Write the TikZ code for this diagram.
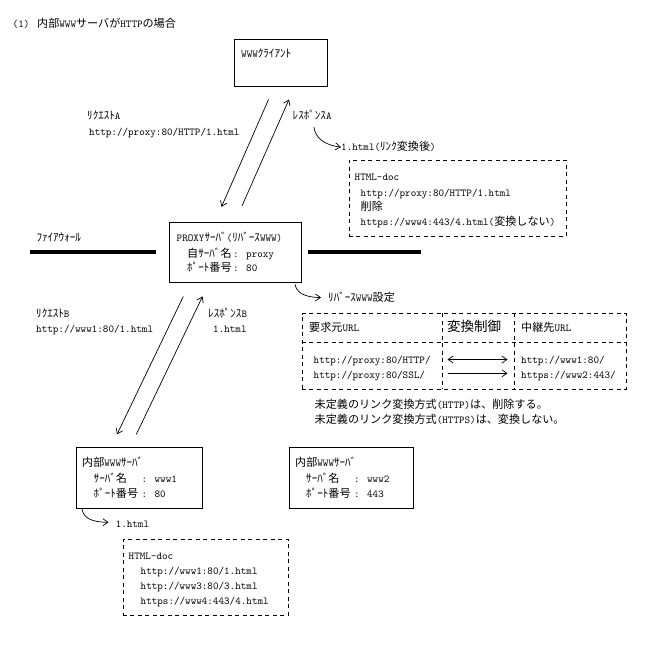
\documentclass[tikz,border=0pt]{standalone}
\usepackage{fontspec}
\setmainfont{Noto Sans CJK JP}
\usetikzlibrary{arrows.meta}
\newcommand\tx[1]{{\fontsize{10.6}{12}\ttfamily #1}}
\tikzset{
  box/.style={draw, line width=0.8pt, anchor=north west, inner sep=0pt},
  dbox/.style={draw, line width=0.8pt, dash pattern=on 4pt off 3.5pt, anchor=north west, inner sep=0pt},
  dline/.style={line width=0.8pt, dash pattern=on 4pt off 3.5pt},
  lbl/.style={anchor=west, inner sep=0pt, font=\fontsize{11.1}{14}\selectfont, text height=8.5pt, text depth=2.5pt},
  arr/.style={line width=0.7pt, -{Straight Barb[length=5pt,width=7pt]}},
  arrboth/.style={line width=0.7pt, {Straight Barb[length=5pt,width=7pt]}-{Straight Barb[length=5pt,width=7pt]}},
  fwall/.style={line width=3.5pt},
}
\begin{document}
\begin{tikzpicture}[x=1pt,y=-0.985pt]
\fill[white] (0,0) rectangle (666,670.05);
\useasboundingbox (0,0) rectangle (666,670.05);

% title
\node[lbl] (t1) at (12.5,25) {\tx{(1)}};
\node[lbl] (t2) at (37,25) {内部\tx{WWW}サーバが\tx{HTTP}の場合};

% client
\node[box, minimum width=93pt, minimum height=46.3pt] (client) at (234,40) {};
\node[lbl] (clientT) at (241,55.5) {\tx{WWW}ｸﾗｲｱﾝﾄ};

% arrows A
\coordinate (aq1) at (268.5,101); \coordinate (aq2) at (221.5,210);
\coordinate (ar1) at (242,209); \coordinate (ar2) at (289,101);
\draw[arr] (aq1) -- (aq2);
\draw[arr] (ar1) -- (ar2);
\node[lbl] (reqA) at (87,118.7) {ﾘｸｴｽﾄ\tx{A}};
\node[lbl] (reqAu) at (89,135) {\tx{http://proxy:80/HTTP/1.html}};
\node[lbl] (resA) at (292.5,118.7) {ﾚｽﾎﾟﾝｽ\tx{A}};

% response A doc
\coordinate (cA1) at (314,129);
\node[lbl] (resAf) at (341,149.4) {\tx{1.html(}ﾘﾝｸ変換後\tx{)}};
\draw[arr] (cA1) .. controls (315,139) and (323,147) .. (resAf.west);
\node[dbox, minimum width=217pt, minimum height=76.8pt] (docA) at (348.5,162) {};
\node[lbl] (docA1) at (354.5,180) {\tx{HTML-doc}};
\node[lbl] (docA2) at (360.5,196.4) {\tx{http://proxy:80/HTTP/1.html}};
\node[lbl] (docA3) at (360.5,211) {削除};
\node[lbl] (docA4) at (360.5,226.3) {\tx{https://www4:443/4.html(}変換しない\tx{)}};

% firewall
\node[lbl] (fwT) at (36.3,242) {ﾌｧｲｱｳｫｰﾙ};
\coordinate (fwL1) at (30,255.8); \coordinate (fwL2) at (155.5,255.8);
\coordinate (fwR1) at (308,255.8); \coordinate (fwR2) at (421,255.8);
\draw[fwall] (fwL1) -- (fwL2);
\draw[fwall] (fwR1) -- (fwR2);

% proxy
\node[box, minimum width=132pt, minimum height=60pt] (proxy) at (168.8,225) {};
\node[lbl] (proxy1) at (176.5,242) {\tx{PROXY}ｻｰﾊﾞ\tx{(}ﾘﾊﾞｰｽ\tx{WWW)}};
\node[lbl] (proxy2) at (187,258) {\makebox[46pt][l]{自ｻｰﾊﾞ名}\tx{: proxy}};
\node[lbl] (proxy3) at (187,273) {\makebox[46pt][l]{ﾎﾟｰﾄ番号}\tx{: 80}};

% reverse www settings
\coordinate (cP1) at (295,288.6);
\node[lbl] (revT) at (328,303) {ﾘﾊﾞｰｽ\tx{WWW}設定};
\draw[arr] (cP1) .. controls (296.5,297) and (304.5,302) .. (321,302);
\node[dbox, minimum width=324pt, minimum height=75.8pt] (tbl) at (301.5,318) {};
\draw[dline] (301.5,348) -- (625.5,348);
\draw[dline] (442,318) -- (442,395);
\draw[dline] (514,318) -- (514,395);
\node[lbl] (h1) at (309,334) {要求元\tx{URL}};
\node[lbl, font=\fontsize{13.5}{15}\selectfont] (h2) at (447,334) {変換制御};
\node[lbl] (h3) at (521,334) {中継先\tx{URL}};
\node[lbl] (r1a) at (313.5,366.4) {\tx{http://proxy:80/HTTP/}};
\node[lbl] (r2a) at (313.5,381.3) {\tx{http://proxy:80/SSL/}};
\node[lbl] (r1c) at (521,366.4) {\tx{http://www1:80/}};
\node[lbl] (r2c) at (521,381.3) {\tx{https://www2:443/}};
\coordinate (ab1) at (447.5,365); \coordinate (ab2) at (507.5,365);
\coordinate (ao1) at (447.5,379); \coordinate (ao2) at (507.5,379);
\draw[arrboth] (ab1) -- (ab2);
\draw[arr] (ao1) -- (ao2);
\node[lbl] (n1) at (314.5,412) {未定義のリンク変換方式\tx{(HTTP)}は、削除する。};
\node[lbl] (n2) at (314.5,427) {未定義のリンク変換方式\tx{(HTTPS)}は、変換しない。};

% arrows B
\coordinate (bq1) at (183.3,301); \coordinate (bq2) at (117,441);
\coordinate (br1) at (136.3,441); \coordinate (br2) at (202.5,301);
\draw[arr] (bq1) -- (bq2);
\draw[arr] (br1) -- (br2);
\node[lbl] (reqB) at (36,319.4) {ﾘｸｴｽﾄ\tx{B}};
\node[lbl] (reqBu) at (36,335) {\tx{http://www1:80/1.html}};
\node[lbl] (resB) at (208,319.4) {ﾚｽﾎﾟﾝｽ\tx{B}};
\node[lbl] (resBf) at (213,335) {\tx{1.html}};

% www1
\node[box, minimum width=125.5pt, minimum height=60.5pt] (www1) at (76,454) {};
\node[lbl] (w1a) at (82,470.5) {内部\tx{WWW}ｻｰﾊﾞ};
\node[lbl] (w1b) at (93.5,486.8) {\makebox[48pt][l]{ｻｰﾊﾞ名}\tx{: www1}};
\node[lbl] (w1c) at (93.5,502) {\makebox[48pt][l]{ﾎﾟｰﾄ番号}\tx{: 80}};

% www2
\node[box, minimum width=124.5pt, minimum height=60.5pt] (www2) at (288.5,454) {};
\node[lbl] (w2a) at (295,470.5) {内部\tx{WWW}ｻｰﾊﾞ};
\node[lbl] (w2b) at (306,486.8) {\makebox[48pt][l]{ｻｰﾊﾞ名}\tx{: www2}};
\node[lbl] (w2c) at (306,502) {\makebox[48pt][l]{ﾎﾟｰﾄ番号}\tx{: 443}};

% doc B
\coordinate (cW1) at (82,516.7);
\node[lbl] (docBf) at (115.5,532.5) {\tx{1.html}};
\draw[arr] (cW1) .. controls (83.5,526) and (91.5,530) .. (108.5,530.3);
\node[dbox, minimum width=165.5pt, minimum height=75.8pt] (docB) at (122.5,547.4) {};
\node[lbl] (docB1) at (128.5,564.5) {\tx{HTML-doc}};
\node[lbl] (docB2) at (140.5,580) {\tx{http://www1:80/1.html}};
\node[lbl] (docB3) at (140.5,595.6) {\tx{http://www3:80/3.html}};
\node[lbl] (docB4) at (140.5,610.6) {\tx{https://www4:443/4.html}};
\end{tikzpicture}
\end{document}
